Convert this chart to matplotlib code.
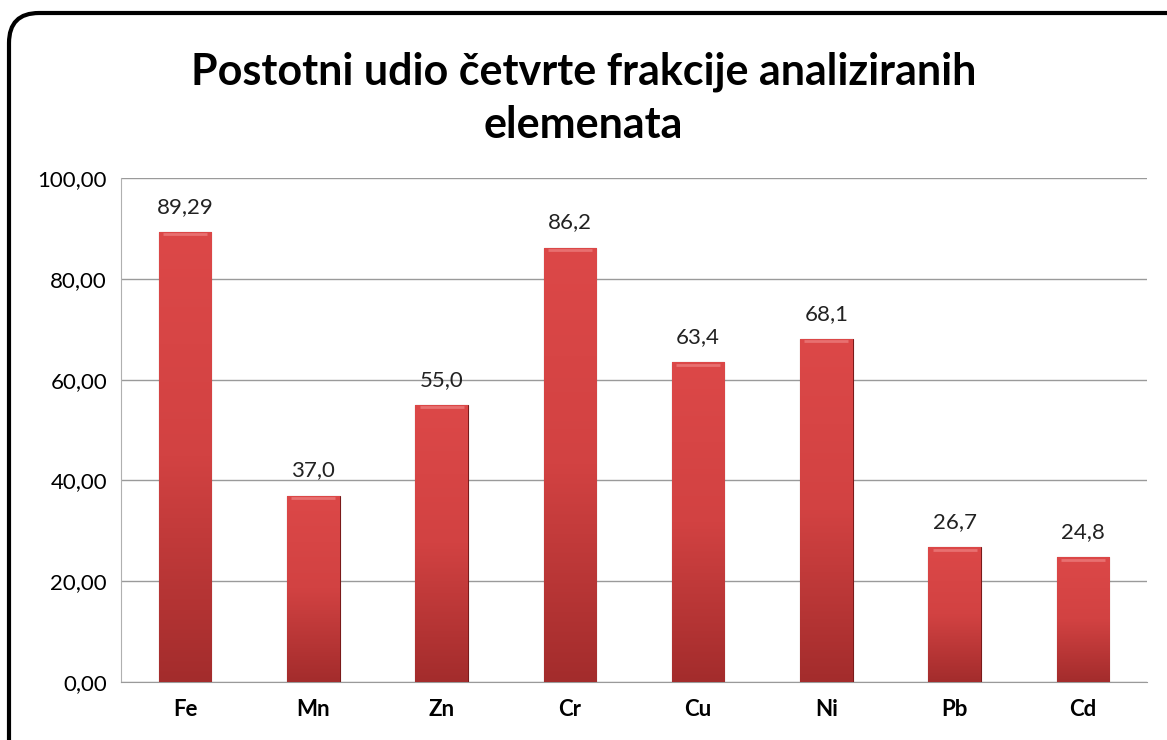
import numpy as np
import matplotlib
matplotlib.use('Agg')
import matplotlib.pyplot as plt
from matplotlib.patches import FancyBboxPatch
from matplotlib.colors import LinearSegmentedColormap

plt.rcParams['font.family'] = ['Lato', 'DejaVu Sans']

elementi = ['Fe', 'Mn', 'Zn', 'Cr', 'Cu', 'Ni', 'Pb', 'Cd']
udio = [89.29, 37.0, 55.0, 86.2, 63.4, 68.1, 26.7, 24.8]
oznake = ['89,29', '37,0', '55,0', '86,2', '63,4', '68,1', '26,7', '24,8']
y_ticks = [0, 20, 40, 60, 80, 100]
y_labels = ['0,00', '20,00', '40,00', '60,00', '80,00', '100,00']
naslov = 'Postotni udio četvrte frakcije analiziranih\nelemenata'

fig = plt.figure(figsize=(11.67, 7.4), dpi=100)

# rounded frame around the whole chart (runs off right/bottom edge), in inches
frame = FancyBboxPatch((0.09, -0.5), 12.5, 7.4 - 0.13 + 0.5,
                       boxstyle='round,pad=0,rounding_size=0.3',
                       transform=fig.dpi_scale_trans, fc='white', ec='black',
                       lw=3, clip_on=False, zorder=0)
fig.patches.append(frame)

ax = fig.add_axes([121 / 1167, 1 - 682 / 740, 1026 / 1167, 504 / 740])
ax.set_zorder(2)
ax.set_facecolor('none')

x = np.arange(len(elementi))
bars = ax.bar(x, udio, width=0.41, color='#d24242', edgecolor='#7a1a1a',
              lw=0.8, zorder=3)

# vertical shading on each bar
grad = np.linspace(0, 1, 256).reshape(-1, 1)
cmap = LinearSegmentedColormap.from_list('r', ['#a32c2c', '#d24242', '#dc4848'])
for b in bars:
    x0, w, h = b.get_x(), b.get_width(), b.get_height()
    im = ax.imshow(grad, cmap=cmap, aspect='auto', extent=[x0, x0 + w, 0, h],
                   origin='lower', zorder=3.5)
    im.set_clip_path(b)
    ax.plot([x0 + w * 0.08, x0 + w * 0.92], [h - 0.5, h - 0.5],
            color='#e87070', lw=2, zorder=4, solid_capstyle='butt')

for xi, v, t in zip(x, udio, oznake):
    ax.text(xi, v + 3, t, ha='center', va='bottom', fontsize=16, color='#222222')

ax.set_xlim(-0.5, len(elementi) - 0.5)
ax.set_ylim(0, 100)
ax.set_yticks(y_ticks)
ax.set_yticklabels(y_labels, fontsize=16)
ax.set_xticks(x)
ax.set_xticklabels(elementi, fontsize=16, fontweight='bold')
ax.tick_params(axis='both', length=0, pad=12)
ax.tick_params(axis='y', pad=10)
ax.yaxis.grid(True, color='#9a9a9a', lw=1, zorder=0)
for s in ['top', 'right']:
    ax.spines[s].set_visible(False)
ax.spines['left'].set_color('#b0b0b0')
ax.spines['bottom'].set_color('#9a9a9a')

fig.text(0.5, 1 - 98 / 740, naslov, ha='center', va='center', fontsize=31,
         fontweight='bold', linespacing=1.4, zorder=3)

fig.savefig('out.png', dpi=100)
